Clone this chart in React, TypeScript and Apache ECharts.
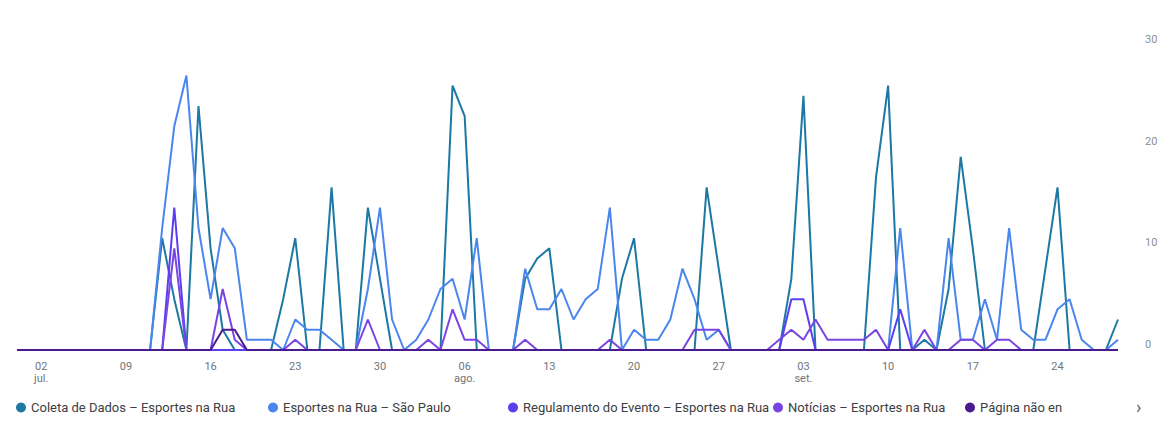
import React, { useEffect, useRef } from "react";
import * as echarts from "echarts";

// Daily categories: 2023-06-30 .. 2023-09-29 (92 days)
const startDate = "2023-06-30";
const dayCount = 92;

const tickLabels: Record<string, string> = {
  "2023-07-02": "02\njul.",
  "2023-07-09": "09",
  "2023-07-16": "16",
  "2023-07-23": "23",
  "2023-07-30": "30",
  "2023-08-06": "06\nago.",
  "2023-08-13": "13",
  "2023-08-20": "20",
  "2023-08-27": "27",
  "2023-09-03": "03\nset.",
  "2023-09-10": "10",
  "2023-09-17": "17",
  "2023-09-24": "24",
};

const seriesNames = [
  "Coleta de Dados – Esportes na Rua",
  "Esportes na Rua – São Paulo",
  "Regulamento do Evento – Esportes na Rua",
  "Notícias – Esportes na Rua",
  "Página não encontrada – Esportes na Rua",
];

const seriesColors = ["#1d78a3", "#4a86ee", "#5b3ef0", "#7a44e2", "#4a1a8e"];

const coleta = [
  0, 0, 0, 0, 0, 0, 0, 0, 0, 0,
  0, 0, 11, 5, 0, 24, 10, 2, 0, 0,
  0, 0, 5, 11, 0, 0, 16, 0, 0, 14,
  7, 0, 0, 0, 0, 0, 26, 23, 0, 0,
  0, 0, 7, 9, 10, 0, 0, 0, 0, 0,
  7, 11, 0, 0, 0, 0, 0, 16, 8, 0,
  0, 0, 0, 0, 7, 25, 0, 0, 0, 0,
  0, 17, 26, 0, 0, 1, 0, 6, 19, 10,
  0, 0, 0, 0, 0, 8, 16, 0, 0, 0,
  0, 3,
];

const esportesSP = [
  0, 0, 0, 0, 0, 0, 0, 0, 0, 0,
  0, 0, 12, 22, 27, 12, 5, 12, 10, 1,
  1, 1, 0, 3, 2, 2, 1, 0, 0, 6,
  14, 3, 0, 1, 3, 6, 7, 3, 11, 0,
  0, 0, 8, 4, 4, 6, 3, 5, 6, 14,
  0, 2, 1, 1, 3, 8, 5, 1, 2, 0,
  0, 0, 0, 0, 0, 0, 0, 0, 0, 0,
  0, 0, 0, 12, 0, 0, 0, 11, 1, 1,
  5, 1, 12, 2, 1, 1, 4, 5, 1, 0,
  0, 1,
];

const regulamento = [
  0, 0, 0, 0, 0, 0, 0, 0, 0, 0,
  0, 0, 0, 14, 0, 0, 0, 0, 0, 0,
  0, 0, 0, 0, 0, 0, 0, 0, 0, 0,
  0, 0, 0, 0, 0, 0, 0, 0, 0, 0,
  0, 0, 0, 0, 0, 0, 0, 0, 0, 0,
  0, 0, 0, 0, 0, 0, 0, 0, 0, 0,
  0, 0, 0, 0, 5, 5, 0, 0, 0, 0,
  0, 0, 0, 4, 0, 0, 0, 0, 0, 0,
  0, 0, 0, 0, 0, 0, 0, 0, 0, 0,
  0, 0,
];

const noticias = [
  0, 0, 0, 0, 0, 0, 0, 0, 0, 0,
  0, 0, 0, 10, 0, 0, 0, 6, 1, 0,
  0, 0, 0, 1, 0, 0, 0, 0, 0, 3,
  0, 0, 0, 0, 1, 0, 4, 1, 1, 0,
  0, 0, 1, 0, 0, 0, 0, 0, 0, 1,
  0, 0, 0, 0, 0, 0, 2, 2, 2, 0,
  0, 0, 0, 1, 2, 1, 3, 1, 1, 1,
  1, 2, 0, 0, 0, 2, 0, 0, 1, 1,
  0, 1, 1, 0, 0, 0, 0, 0, 0, 0,
  0, 0,
];

const paginaNaoEncontrada = [
  0, 0, 0, 0, 0, 0, 0, 0, 0, 0,
  0, 0, 0, 0, 0, 0, 0, 2, 2, 0,
  0, 0, 0, 0, 0, 0, 0, 0, 0, 0,
  0, 0, 0, 0, 0, 0, 0, 0, 0, 0,
  0, 0, 0, 0, 0, 0, 0, 0, 0, 0,
  0, 0, 0, 0, 0, 0, 0, 0, 0, 0,
  0, 0, 0, 0, 0, 0, 0, 0, 0, 0,
  0, 0, 0, 0, 0, 0, 0, 0, 0, 0,
  0, 0, 0, 0, 0, 0, 0, 0, 0, 0,
  0, 0,
];

const seriesValues = [coleta, esportesSP, regulamento, noticias, paginaNaoEncontrada];

function buildDates(): string[] {
  const [y, m, d] = startDate.split("-").map(Number);
  const base = Date.UTC(y, m - 1, d);
  const out: string[] = [];
  for (let i = 0; i < dayCount; i++) {
    out.push(new Date(base + i * 86400000).toISOString().slice(0, 10));
  }
  return out;
}

export default function App() {
  const ref = useRef<HTMLDivElement>(null);
  useEffect(() => {
    if (!ref.current) return;
    const chart = echarts.init(ref.current, undefined, { renderer: "svg" });
    const dates = buildDates();
    const font = "Roboto, 'Noto Sans', sans-serif";
    const legendLefts = [16, 268, 508, 773, 965];
    chart.setOption({
      animation: false,
      backgroundColor: "#ffffff",
      textStyle: { fontFamily: font },
      grid: { left: 17, right: 48, top: 45, bottom: 72 },
      legend: seriesNames.map((n, i) => ({
        left: legendLefts[i],
        top: 401,
        padding: 0,
        icon: "circle",
        itemWidth: 10,
        itemHeight: 10,
        textStyle: { fontSize: 13, color: "#3c4043", fontFamily: font },
        data: [
          i === 4
            ? { name: n, textStyle: { width: 90, overflow: "truncate", ellipsis: "" } }
            : { name: n },
        ],
      })),
      graphic: [
        {
          type: "text",
          left: 1136,
          top: 397,
          style: { text: "›", fontSize: 18, fill: "#5f6368", fontFamily: font },
        },
      ],
      xAxis: {
        type: "category",
        boundaryGap: false,
        data: dates,
        axisLine: { show: false },
        axisTick: { show: false },
        axisLabel: {
          interval: (_i: number, v: string) => v in tickLabels,
          formatter: (v: string) => tickLabels[v] || "",
          color: "#70757a",
          fontSize: 11,
          lineHeight: 12,
          margin: 10,
          fontFamily: font,
        },
        splitLine: { show: false },
      },
      yAxis: {
        type: "value",
        position: "right",
        min: 0,
        max: 30,
        interval: 10,
        axisLine: { show: false },
        axisTick: { show: false },
        splitLine: { show: false },
        axisLabel: {
          margin: 27,
          align: "left",
          verticalAlign: "bottom",
          color: "#8a8f94",
          fontSize: 11,
          fontFamily: font,
        },
      },
      series: seriesNames.map((name, i) => ({
        name,
        type: "line",
        data: seriesValues[i],
        symbol: "none",
        color: seriesColors[i],
        lineStyle: { width: 2, color: seriesColors[i] },
      })),
    });
    return () => chart.dispose();
  }, []);
  return (
    <div
      ref={ref}
      style={{ position: "fixed", left: 0, top: 0, width: 1166, height: 422 }}
    />
  );
}
